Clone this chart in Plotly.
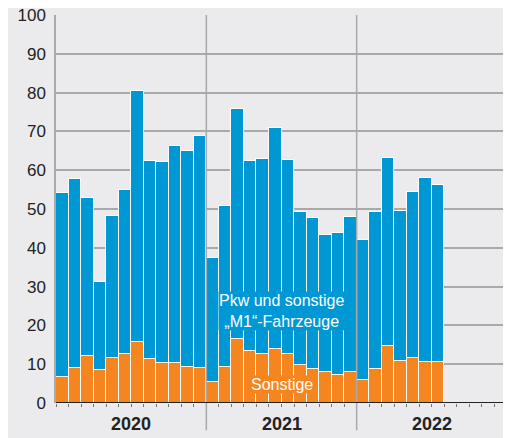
import plotly.graph_objects as go

years = ["2020", "2021", "2022"]
months_per_year = 12
# Monthly values Jan 2020 .. Jul 2022
sonstige = [6.8, 9.1, 12.2, 8.5, 11.5, 12.6, 15.6, 11.3, 10.2, 10.3, 9.3, 9.0,
            5.3, 9.4, 16.4, 13.5, 12.7, 14.0, 12.7, 9.7, 8.8, 8.1, 7.3, 7.9,
            5.9, 8.8, 14.8, 10.9, 11.5, 10.6, 10.5]
pkw = [47.4, 48.7, 40.6, 22.8, 36.6, 42.3, 64.9, 51.1, 51.8, 55.9, 55.7, 59.8,
       32.0, 41.4, 59.4, 48.9, 50.2, 56.8, 50.0, 39.4, 38.9, 35.1, 36.5, 40.1,
       36.2, 40.4, 48.3, 38.6, 42.9, 47.4, 45.7]
y_ticks = [0, 10, 20, 30, 40, 50, 60, 70, 80, 90, 100]

BLUE = "#0098D4"
ORANGE = "#F5861F"
BG = "#EBEBED"
GRID = "#A9A9AB"
FONT = "Liberation Sans, Arial, sans-serif"

x = list(range(len(pkw)))
n_slots = months_per_year * len(years)

fig = go.Figure()
fig.add_trace(go.Bar(x=x, y=sonstige, name="Sonstige", marker=dict(color=ORANGE, line=dict(color="white", width=1))))
fig.add_trace(go.Bar(x=x, y=pkw, name="Pkw", marker=dict(color=BLUE, line=dict(color="white", width=1))))

shapes = []
for i in range(1, len(years)):
    xb = i * months_per_year - 0.5
    shapes.append(dict(type="line", xref="x", yref="paper", x0=xb, x1=xb, y0=-0.07, y1=1,
                       line=dict(color=GRID, width=1.5), layer="above"))
shapes.append(dict(type="line", xref="x", yref="y", x0=-0.5, x1=n_slots - 0.5, y0=0, y1=0,
                   line=dict(color="#222222", width=2), layer="above"))

annotations = []
for i, yr in enumerate(years):
    annotations.append(dict(x=i * months_per_year + 5.5, y=-0.053, xref="x", yref="paper",
                            text="<b>" + yr + "</b>", showarrow=False, yanchor="middle",
                            font=dict(family=FONT, size=18, color="#222222")))
annotations.append(dict(x=17.5, y=23.6, xref="x", yref="y",
                        text="Pkw und sonstige<br>„M1“-Fahrzeuge", showarrow=False,
                        bgcolor=BLUE, borderpad=0,
                        font=dict(family=FONT, size=16, color="white")))
annotations.append(dict(x=17.5, y=4.7, xref="x", yref="y", text="Sonstige", showarrow=False,
                        bgcolor=ORANGE, borderpad=0,
                        font=dict(family=FONT, size=16, color="white")))

# page body has an 8px margin; size and margins compensate so the plot sits where it should
fig.update_layout(
    width=503, height=430,
    barmode="stack", bargap=0,
    paper_bgcolor=BG, plot_bgcolor=BG,
    margin=dict(l=48, r=4, t=7, b=35, autoexpand=False),
    showlegend=False,
    shapes=shapes, annotations=annotations,
    font=dict(family=FONT),
    xaxis=dict(range=[-0.5, n_slots - 0.5], showgrid=False, zeroline=False,
               tickmode="array", tickvals=[k - 0.5 for k in range(n_slots + 1)],
               showticklabels=False, ticks="outside", ticklen=3, tickcolor="#777777", tickwidth=1),
    yaxis=dict(range=[0, 100], tickvals=y_ticks, showgrid=True, gridcolor=GRID, gridwidth=1.5,
               zeroline=False, showline=True, linecolor=GRID, linewidth=1.5,
               ticks="", ticklabelstandoff=5, ticklabeloverflow="allow",
               tickfont=dict(family=FONT, size=17, color="#222222")),
)

fig.write_html("out.html")
